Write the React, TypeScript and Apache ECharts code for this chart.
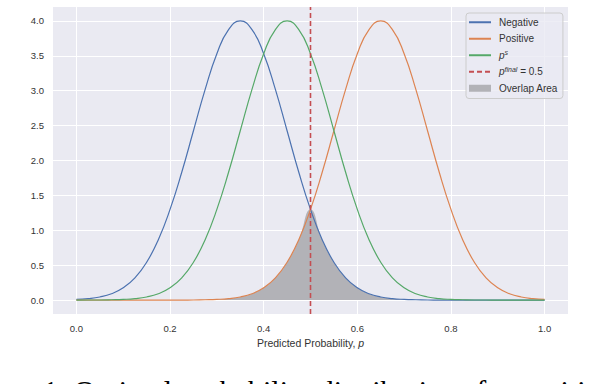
import { useEffect, useRef } from "react";
import * as echarts from "echarts";

// Predicted probability grid
const xValues = [
  0, 0.025, 0.05, 0.075, 0.1, 0.125, 0.15, 0.175, 0.2, 0.225, 0.25, 0.275, 0.3, 0.325,
  0.35, 0.375, 0.4, 0.425, 0.45, 0.475, 0.5, 0.525, 0.55, 0.575, 0.6, 0.625, 0.65,
  0.675, 0.7, 0.725, 0.75, 0.775, 0.8, 0.825, 0.85, 0.875, 0.9, 0.925, 0.95, 0.975, 1.0,
];

const negative = [
  0.009, 0.02, 0.044, 0.091, 0.176, 0.318, 0.541, 0.865, 1.299, 1.831, 2.426, 3.019, 3.53,
  3.877, 4.0, 3.877, 3.53, 3.019, 2.426, 1.831, 1.299, 0.865, 0.541, 0.318, 0.176, 0.091,
  0.044, 0.02, 0.009, 0.004, 0.001, 0, 0, 0, 0, 0, 0, 0, 0, 0, 0,
];

const positive = [
  0, 0, 0, 0, 0, 0, 0, 0, 0, 0, 0.001, 0.004, 0.009, 0.02, 0.044, 0.091, 0.176, 0.318,
  0.541, 0.865, 1.299, 1.831, 2.426, 3.019, 3.53, 3.877, 4.0, 3.877, 3.53, 3.019, 2.426,
  1.831, 1.299, 0.865, 0.541, 0.318, 0.176, 0.091, 0.044, 0.02, 0.009,
];

const pS = [
  0, 0.0005, 0.001, 0.004, 0.009, 0.02, 0.044, 0.091, 0.176, 0.318, 0.541, 0.865, 1.299,
  1.831, 2.426, 3.019, 3.53, 3.877, 4.0, 3.877, 3.53, 3.019, 2.426, 1.831, 1.299, 0.865,
  0.541, 0.318, 0.176, 0.091, 0.044, 0.02, 0.009, 0.004, 0.001, 0.0005, 0, 0, 0, 0, 0,
];

const threshold = 0.5;
const xTicks = [0, 0.2, 0.4, 0.6, 0.8, 1.0];
const yTicks = [0, 0.5, 1.0, 1.5, 2.0, 2.5, 3.0, 3.5, 4.0];
const xRange = [-0.05, 1.05];
const yRange = [-0.2, 4.2];

const seriesNames = ["Negative", "Positive", "p^s", "p^final", "Overlap Area"];
const captionText = "1: Optimal probability distributions for positi";

const FONT = "'Liberation Sans', Arial, sans-serif";
const GRAY = "#b2b2b7";

export default function App() {
  const ref = useRef<HTMLDivElement>(null);
  useEffect(() => {
    const chart = echarts.init(ref.current!, null, { renderer: "svg" });
    const pairs = (ys: number[]) => xValues.map((x, i) => [x, ys[i]]);
    const overlap = xValues.map((x, i) => [x, Math.min(negative[i], positive[i])]);
    const labelMap: Record<string, string> = {
      Negative: "Negative",
      Positive: "Positive",
      "p^s": "{i|p}{sup|s}",
      "p^final": "{i|p}{sup|final}{n| = 0.5}",
      "Overlap Area": "Overlap Area",
    };
    const curve = (name: string, ys: number[], color: string) => ({
      name,
      type: "line",
      data: pairs(ys),
      smooth: 0.5,
      symbol: "none",
      lineStyle: { color, width: 1.2 },
      itemStyle: { color },
      z: 3,
    });
    const option: any = {
      animation: false,
      backgroundColor: "#ffffff",
      grid: {
        left: 53,
        top: 7,
        width: 515,
        height: 307,
        show: true,
        backgroundColor: "#eaeaf2",
        borderWidth: 0,
      },
      xAxis: {
        type: "value",
        min: xRange[0],
        max: xRange[1],
        axisLine: { show: false },
        axisTick: { show: false, customValues: xTicks },
        axisLabel: {
          customValues: xTicks,
          formatter: (v: number) => v.toFixed(1),
          color: "#333",
          fontFamily: FONT,
          fontSize: 9.5,
          margin: 9,
        },
        splitLine: { show: true, lineStyle: { color: "#ffffff", width: 1 } },
        name: "{n|Predicted Probability, }{i|p}",
        nameLocation: "middle",
        nameGap: 23,
        nameTextStyle: {
          color: "#333",
          fontFamily: FONT,
          fontSize: 10.5,
          rich: {
            n: { fontFamily: FONT, fontSize: 10.5, color: "#333" },
            i: { fontFamily: FONT, fontSize: 10.5, color: "#333", fontStyle: "italic" },
          },
        },
      },
      yAxis: {
        type: "value",
        min: yRange[0],
        max: yRange[1],
        axisLine: { show: false },
        axisTick: { show: false, customValues: yTicks },
        axisLabel: {
          customValues: yTicks,
          formatter: (v: number) => v.toFixed(1),
          color: "#333",
          fontFamily: FONT,
          fontSize: 9.5,
          margin: 9,
        },
        splitLine: { show: true, lineStyle: { color: "#ffffff", width: 1 } },
      },
      legend: {
        orient: "vertical",
        left: 466,
        top: 13,
        padding: [3, 5, 4, 2],
        itemGap: 4,
        itemWidth: 22,
        itemHeight: 7,
        backgroundColor: "rgba(234,234,242,0.8)",
        borderColor: "#cccccc",
        borderWidth: 1,
        borderRadius: 3,
        itemStyle: { color: "rgba(0,0,0,0)", borderWidth: 0 },
        data: [
          { name: seriesNames[0] },
          { name: seriesNames[1] },
          { name: seriesNames[2] },
          { name: seriesNames[3] },
          { name: seriesNames[4], icon: "rect", itemStyle: { color: GRAY, borderWidth: 0 } },
        ],
        formatter: (name: string) => labelMap[name] ?? name,
        textStyle: {
          color: "#333",
          fontFamily: FONT,
          fontSize: 10,
          lineHeight: 12.5,
          padding: [0, 0, 0, 3],
          rich: {
            i: { fontFamily: FONT, fontSize: 10, fontStyle: "italic", color: "#333", lineHeight: 12.5 },
            sup: {
              fontFamily: FONT,
              fontSize: 7,
              fontStyle: "italic",
              color: "#333",
              verticalAlign: "top",
              lineHeight: 12.5,
            },
            n: { fontFamily: FONT, fontSize: 10, color: "#333", lineHeight: 12.5 },
          },
        },
      },
      series: [
        {
          name: seriesNames[4],
          type: "line",
          data: overlap,
          smooth: 0.5,
          symbol: "none",
          lineStyle: { width: 0, color: GRAY },
          itemStyle: { color: GRAY },
          areaStyle: { color: GRAY, opacity: 1 },
          z: 1,
        },
        curve(seriesNames[0], negative, "#4c72b0"),
        curve(seriesNames[1], positive, "#dd8452"),
        curve(seriesNames[2], pS, "#55a868"),
        {
          name: seriesNames[3],
          type: "line",
          data: [
            [threshold, yRange[0]],
            [threshold, yRange[1]],
          ],
          symbol: "none",
          lineStyle: { color: "#c44e52", width: 1.6, type: [5, 3] },
          itemStyle: { color: "#c44e52" },
          z: 4,
        },
      ],
      graphic: [
        {
          type: "text",
          left: 43,
          top: 375,
          style: {
            text: captionText,
            fontFamily: "'Liberation Serif', 'Times New Roman', serif",
            fontSize: 30,
            fill: "#000",
          },
        },
      ],
    };
    chart.setOption(option);
    return () => chart.dispose();
  }, []);
  return (
    <div
      ref={ref}
      style={{ position: "fixed", left: 0, top: 0, width: 594, height: 384, background: "#fff" }}
    />
  );
}
